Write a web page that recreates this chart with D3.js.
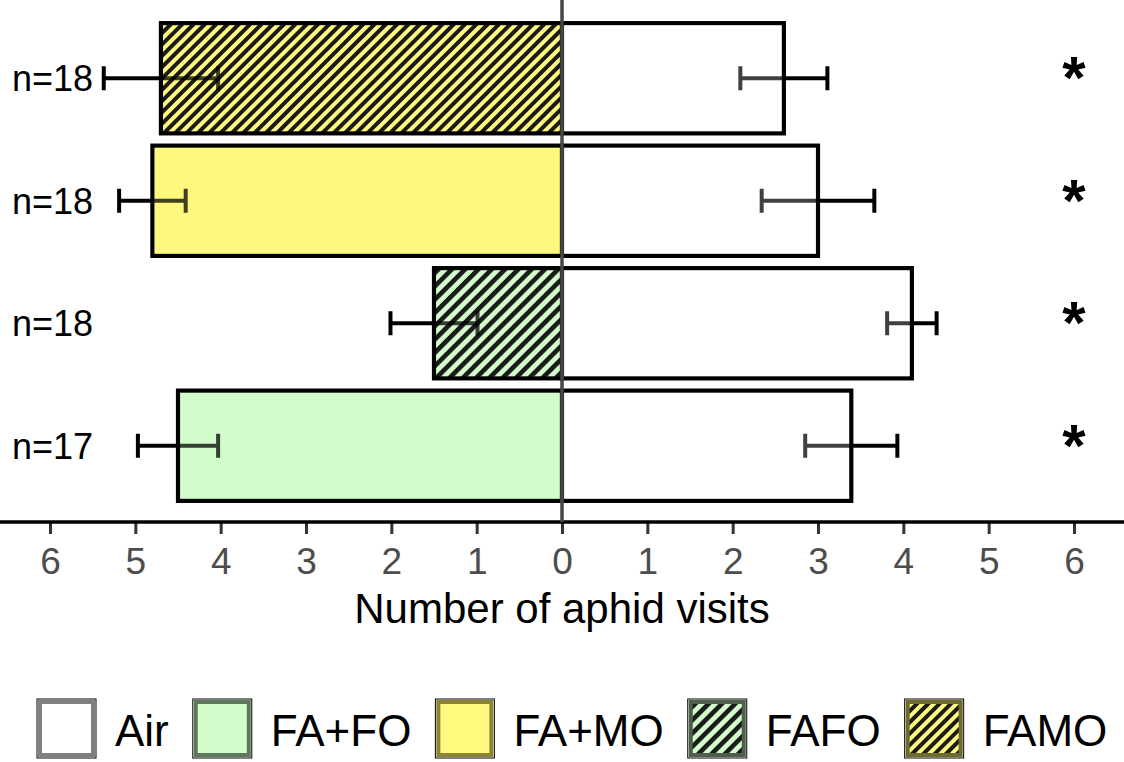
<!DOCTYPE html>
<html>
<head>
<meta charset="utf-8">
<script src="https://cdn.jsdelivr.net/npm/d3@7"></script>
<style>
  body { margin: 0; background: #fff; }
  svg { display: block; font-family: "Liberation Sans", Arial, sans-serif; }
</style>
</head>
<body>
<div class="chart"></div>
<script>
// rows, top to bottom
const groups = ["FAMO", "FA+MO", "FAFO", "FA+FO"];
const nLabels = ["n=18", "n=18", "n=18", "n=17"];
const odourMean = [4.70, 4.80, 1.50, 4.50];
const odourSE = [0.67, 0.39, 0.51, 0.47];
const airMean = [2.60, 3.00, 4.10, 3.39];
const airSE = [0.51, 0.66, 0.29, 0.54];
const signif = ["*", "*", "*", "*"];
const xTicks = [-6, -5, -4, -3, -2, -1, 0, 1, 2, 3, 4, 5, 6];
const legendKeys = ["Air", "FA+FO", "FA+MO", "FAFO", "FAMO"];

const width = 1124, height = 762;
const axisY = 522;
const sw = 4.2; // bar outline

const fills = {
    "Air": "#ffffff",
    "FA+FO": "#d2fdcb",
    "FA+MO": "#fff97e",
    "FAFO": "#d2fdcb",
    "FAMO": "#fff97e"
};
const keyBorder = {
    "Air": "#808080",
    "FA+FO": "#5e785b",
    "FA+MO": "#8c8432",
    "FAFO": "#4d5f4a",
    "FAMO": "#6f6a2e"
};
const hatched = {"FAFO": {gap: 9.4, lw: 4.6}, "FAMO": {gap: 8, lw: 4}};

const svg = d3.select('.chart').append('svg')
    .attr('width', width)
    .attr('height', height);

const defs = svg.append('defs');
Object.keys(hatched).forEach(k => {
    const h = hatched[k];
    const p = defs.append('pattern')
        .attr('id', 'hatch-' + k.replace('+', ''))
        .attr('patternUnits', 'userSpaceOnUse')
        .attr('width', h.gap)
        .attr('height', h.gap)
        .attr('patternTransform', 'rotate(45)');
    p.append('rect').attr('width', h.gap).attr('height', h.gap).attr('fill', fills[k]);
    p.append('rect').attr('width', h.lw).attr('height', h.gap).attr('fill', '#1a1a1a');
});
const fillOf = k => hatched[k] ? 'url(#hatch-' + k.replace('+', '') + ')' : fills[k];

const x = d3.scaleLinear().domain([-6, 6]).range([50, 1074]);
const y = d3.scaleBand().domain(groups).range([17, 507])
    .paddingInner(0.1).paddingOuter(0.05);

const rows = groups.map((g, i) => ({
    g, n: nLabels[i], om: odourMean[i], os: odourSE[i],
    am: airMean[i], as: airSE[i], s: signif[i]
}));

// bars (inset > 0 draws only the fill, inside the outline)
function drawBars(sel, opacity, inset) {
    const stroke = inset === 0;
    sel.selectAll('rect.odour')
        .data(rows)
        .join('rect')
        .attr('class', 'odour')
        .attr('x', d => x(-d.om) + inset)
        .attr('y', d => y(d.g) + inset)
        .attr('width', d => x(0) - x(-d.om) - 2 * inset)
        .attr('height', y.bandwidth() - 2 * inset)
        .attr('fill', d => fillOf(d.g))
        .attr('fill-opacity', opacity)
        .attr('stroke', stroke ? '#000' : 'none')
        .attr('stroke-width', sw);
    sel.selectAll('rect.air')
        .data(rows)
        .join('rect')
        .attr('class', 'air')
        .attr('x', x(0) + inset)
        .attr('y', d => y(d.g) + inset)
        .attr('width', d => x(d.am) - x(0) - 2 * inset)
        .attr('height', y.bandwidth() - 2 * inset)
        .attr('fill', fills.Air)
        .attr('fill-opacity', opacity)
        .attr('stroke', stroke ? '#000' : 'none')
        .attr('stroke-width', sw);
}
drawBars(svg.append('g'), 1, 0);

// error bars
const errs = [];
rows.forEach(d => {
    errs.push({g: d.g, lo: -(d.om + d.os), hi: -(d.om - d.os)});
    errs.push({g: d.g, lo: d.am - d.as, hi: d.am + d.as});
});
const eb = svg.append('g').attr('stroke', '#000').attr('stroke-width', 4);
eb.selectAll('line.h').data(errs).join('line')
    .attr('x1', d => x(d.lo)).attr('x2', d => x(d.hi))
    .attr('y1', d => y(d.g) + y.bandwidth() / 2)
    .attr('y2', d => y(d.g) + y.bandwidth() / 2);
eb.selectAll('line.cap').data(errs.flatMap(d => [d.lo, d.hi].map(v => ({g: d.g, v})))).join('line')
    .attr('x1', d => x(d.v)).attr('x2', d => x(d.v))
    .attr('y1', d => y(d.g) + y.bandwidth() / 2 - 12)
    .attr('y2', d => y(d.g) + y.bandwidth() / 2 + 12);

// translucent bar fill over the error bars
drawBars(svg.append('g'), 0.25, sw / 2);

// n labels
svg.append('g').selectAll('text').data(rows).join('text')
    .attr('x', 12)
    .attr('y', d => y(d.g) + y.bandwidth() / 2 + 13)
    .attr('font-size', 36)
    .attr('fill', '#000')
    .text(d => d.n);

// significance stars
svg.append('g').selectAll('text').data(rows).join('text')
    .attr('x', x(6))
    .attr('y', d => y(d.g) + y.bandwidth() / 2 + 20)
    .attr('text-anchor', 'middle')
    .attr('font-size', 60)
    .attr('font-weight', 'bold')
    .text(d => d.s);

// x axis
const xAxis = d3.axisBottom(x)
    .tickValues(xTicks)
    .tickFormat(d => Math.abs(d))
    .tickSize(12)
    .tickPadding(14)
    .tickSizeOuter(0);
const ax = svg.append('g').attr('transform', `translate(0,${axisY})`).call(xAxis);
ax.select('.domain').remove();
ax.selectAll('.tick line').attr('stroke', '#333').attr('stroke-width', 3);
ax.selectAll('.tick text')
    .attr('font-size', 37)
    .attr('font-family', '"Liberation Sans", Arial, sans-serif')
    .attr('fill', '#4d4d4d');
svg.append('line')
    .attr('x1', 0).attr('x2', width)
    .attr('y1', axisY).attr('y2', axisY)
    .attr('stroke', '#000').attr('stroke-width', 3.5);

svg.append('text')
    .attr('x', x(0))
    .attr('y', 623)
    .attr('text-anchor', 'middle')
    .attr('font-size', 42)
    .text('Number of aphid visits');

// zero line
svg.append('line')
    .attr('x1', x(0)).attr('x2', x(0))
    .attr('y1', 0).attr('y2', axisY)
    .attr('stroke', '#474747').attr('stroke-width', 3.5);

// legend
const leg = svg.append('g');
let lx = 37;
legendKeys.forEach(k => {
    const item = leg.append('g');
    item.append('rect')
        .attr('x', lx).attr('y', 699).attr('width', 59).attr('height', 59)
        .attr('fill', 'none').attr('stroke', '#000').attr('stroke-width', 1);
    item.append('rect')
        .attr('x', lx + 3).attr('y', 702).attr('width', 53).attr('height', 53)
        .attr('fill', fillOf(k)).attr('stroke', keyBorder[k]).attr('stroke-width', 4);
    const t = item.append('text')
        .attr('x', lx + 78).attr('y', 746)
        .attr('font-size', 44)
        .text(k);
    lx += 78 + t.node().getComputedTextLength() + 24;
});
</script>
</body>
</html>
